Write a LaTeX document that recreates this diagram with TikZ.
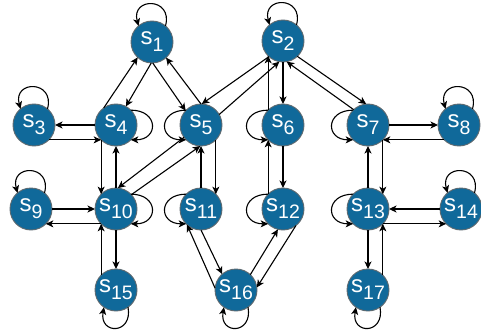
\documentclass[tikz,border=0pt]{standalone}
\usepackage{fontspec}
\setmainfont{Liberation Sans}
\usetikzlibrary{arrows.meta}
\definecolor{nodeblue}{HTML}{10699A}
\definecolor{nodeborder}{HTML}{5F6A70}
\newcommand{\sname}[1]{{\fontsize{24}{24}\selectfont s}\raisebox{-7pt}{\fontsize{19.5}{19.5}\selectfont #1}}
\begin{document}
\begin{tikzpicture}[x=1pt,y=1pt,
  state/.style={circle, fill=nodeblue, draw=nodeborder, line width=0.9pt,
    minimum size=42pt, inner sep=0pt, outer sep=0pt, text=white},
  edge/.style={-{Stealth[length=7.5pt,width=7pt,inset=2pt]}, line width=1.1pt, black},
  looptop/.style={edge, out=75, in=105, distance=30pt},
  loopright/.style={edge, out=0, in=0, distance=28pt},
  loopleft/.style={edge, out=180, in=180, distance=28pt},
  loopbottom/.style={edge, out=-80, in=-100, distance=28pt}]
\useasboundingbox (0,0) rectangle (481,-334);
% nodes
\node[state] (s1) at (152,-42) {\sname{1}};
\node[state] (s2) at (283,-41) {\sname{2}};
\node[state] (s3) at (34,-125) {\sname{3}};
\node[state] (s4) at (116,-125) {\sname{4}};
\node[state] (s5) at (201,-125) {\sname{5}};
\node[state] (s6) at (283,-125) {\sname{6}};
\node[state] (s7) at (368,-125) {\sname{7}};
\node[state] (s8) at (459,-125) {\sname{8}};
\node[state] (s9) at (31,-209) {\sname{9}};
\node[state] (s10) at (116,-209) {\sname{10}};
\node[state] (s11) at (201,-209) {\sname{11}};
\node[state] (s12) at (283,-209) {\sname{12}};
\node[state] (s13) at (368,-209) {\sname{13}};
\node[state] (s14) at (461,-209) {\sname{14}};
\node[state] (s15) at (116,-290) {\sname{15}};
\node[state] (s16) at (236,-290) {\sname{16}};
\node[state] (s17) at (368,-290) {\sname{17}};
% self loops
\foreach \n in {s1,s2,s3,s8,s9,s14} \draw[looptop] (\n.50) to (\n.130);
\foreach \n in {s4,s10} \draw[loopright] (\n.45) to (\n.-45);
\foreach \n in {s5,s6,s7,s11,s12,s13} \draw[loopleft] (\n.135) to (\n.225);
\foreach \n in {s15,s16,s17} \draw[loopbottom] (\n.-55) to (\n.-125);
% diagonal edges
\draw[edge] (s1.268) -- (s4.62);
\draw[edge] (s4.126) -- (s1.227);
\draw[edge] (s1.272) -- (s5.137);
\draw[edge] (s5.90) -- (s1.312);
\draw[edge] (s2.228) -- (s5.88);
\draw[edge] (s5.30) -- (s2.260);
\draw[edge] (s2.313) -- (s7.95);
\draw[edge] (s7.133) -- (s2.280);
\draw[edge] (s5.216) -- (s10.85);
\draw[edge] (s10.43) -- (s5.268);
\draw[edge] (s11.270) -- (s16.131);
\draw[edge] (s16.175) -- (s11.228);
\draw[edge] (s16.47) -- (s12.256);
\draw[edge] (s12.308) -- (s16.7);
% vertical pairs
\draw[edge] (s4.225) -- (s10.135);
\draw[edge] (s10.north) -- (s4.south);
\draw[edge] (s10.south) -- (s15.north);
\draw[edge] (s15.135) -- (s10.225);
\draw[edge] (s5.315) -- (s11.45);
\draw[edge] (s11.north) -- (s5.south);
\draw[edge] (s2.south) -- (s6.north);
\draw[edge] (s6.135) -- (s2.225);
\draw[edge] (s6.south) -- (s12.north);
\draw[edge] (s12.135) -- (s6.225);
\draw[edge] (s13.north) -- (s7.south);
\draw[edge] (s7.315) -- (s13.45);
\draw[edge] (s13.south) -- (s17.north);
\draw[edge] (s17.45) -- (s13.315);
% horizontal pairs
\draw[edge] (s4.west) -- (s3.east);
\draw[edge] (s3.315) -- (s4.225);
\draw[edge] (s9.east) -- (s10.west);
\draw[edge] (s10.225) -- (s9.315);
\draw[edge] (s7.east) -- (s8.west);
\draw[edge] (s8.225) -- (s7.315);
\draw[edge] (s14.west) -- (s13.east);
\draw[edge] (s13.315) -- (s14.225);
\end{tikzpicture}
\end{document}
